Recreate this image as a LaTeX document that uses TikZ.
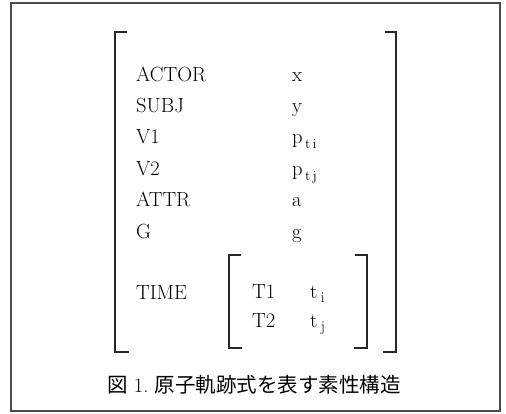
\documentclass[tikz,border=0pt]{standalone}
\usepackage{fontspec}
\newfontfamily\cjk{Noto Sans CJK JP}
\begin{document}
\begin{tikzpicture}[x=1pt,y=-1pt,
  lbl/.style={anchor=base west,inner sep=0pt,font=\fontsize{20.5}{22}\selectfont,text=black},
  brk/.style={draw=black!85,line width=2pt,line cap=rect},
  frm/.style={draw=black!70,line width=1.4pt}]
\useasboundingbox (0,0) rectangle (506,414);
\draw[frm] (11,3) rectangle (500,411);
% outer bracket
\draw[brk] (126,32) -- (115,32) -- (115,352) -- (128,352);
\draw[brk] (386,32) -- (396,32) -- (396,352) -- (384,352);
% inner bracket
\draw[brk] (240,255) -- (229,255) -- (229,348) -- (241,348);
\draw[brk] (356,255) -- (367,255) -- (367,348) -- (355,348);
% rows
\node[lbl] (actor) at (136,82) {ACTOR};
\node[lbl] (subj)  at (136,113) {SUBJ};
\node[lbl] (v1)    at (136,144) {V1};
\node[lbl] (v2)    at (136,176) {V2};
\node[lbl] (attr)  at (136,207) {ATTR};
\node[lbl] (g)     at (136,239) {G};
\node[lbl] (time)  at (136,299) {TIME};
\node[lbl] (x)     at (292,82) {x};
\node[lbl] (y)     at (292,113) {y};
\node[lbl] (pti)   at (292,144) {p\raisebox{-5pt}{\fontsize{14}{16}\selectfont\,t\,i}};
\node[lbl] (ptj)   at (292,176) {p\raisebox{-5pt}{\fontsize{14}{16}\selectfont\,t\,j}};
\node[lbl] (a)     at (292,207) {a};
\node[lbl] (gv)    at (292,239) {g};
\node[lbl] (t1)    at (252,298) {T1};
\node[lbl] (t2)    at (252,327) {T2};
\node[lbl] (ti)    at (310,298) {t\,\raisebox{-4pt}{\fontsize{15}{17}\selectfont i}};
\node[lbl] (tj)    at (310,327) {t\,\raisebox{-4pt}{\fontsize{15}{17}\selectfont j}};
% caption
\node[inner sep=0pt,font=\fontsize{20.5}{22}\selectfont,text=black] (cap) at (254,385)
  {{\cjk 図} 1.\ {\cjk 原子軌跡式を表す素性構造}};
\end{tikzpicture}
\end{document}
